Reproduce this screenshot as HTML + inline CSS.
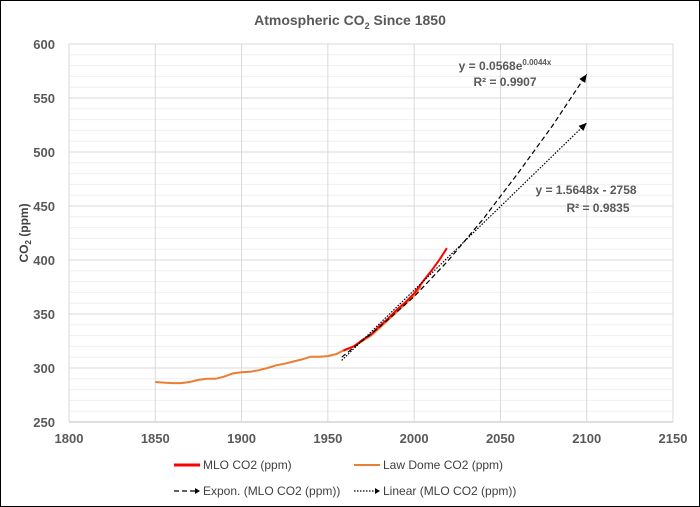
<!DOCTYPE html>
<html><head><meta charset="utf-8"><style>
body{margin:0;background:#fff}
svg{display:block;font-family:"Liberation Sans",sans-serif}
</style></head><body>
<svg id="chart" width="700" height="507" viewBox="0 0 700 507">
<rect x="0.5" y="0.5" width="699" height="506" fill="#fff" stroke="#000" stroke-width="1"/>
<text x="350" y="25" text-anchor="middle" font-size="14" font-weight="bold" fill="#595959">Atmospheric CO<tspan font-size="9" dy="4">2</tspan><tspan dy="-4"> Since 1850</tspan></text>
<g id="grid"></g>
<g id="yt"></g><g id="xt"></g>
<text transform="translate(28,233) rotate(-90)" text-anchor="middle" font-size="12" font-weight="bold" fill="#404040">CO<tspan font-size="8" dy="3">2</tspan><tspan dy="-3"> (ppm)</tspan></text>
<g id="series"></g>
<text x="505" y="70" text-anchor="middle" font-size="12" font-weight="bold" fill="#595959">y = 0.0568e<tspan font-size="8" dy="-5">0.0044x</tspan></text>
<text x="505" y="86" text-anchor="middle" font-size="12" font-weight="bold" fill="#595959">R² = 0.9907</text>
<text x="586" y="194" text-anchor="middle" font-size="12" font-weight="bold" fill="#595959">y = 1.5648x - 2758</text>
<text x="598" y="212" text-anchor="middle" font-size="12" font-weight="bold" fill="#595959">R² = 0.9835</text>
<g font-size="12" fill="#404040">
<g><line x1="174" y1="465" x2="200" y2="465" stroke="#f00" stroke-width="3"/><text x="203" y="469">MLO CO2 (ppm)</text></g>
<g><line x1="354" y1="465" x2="380" y2="465" stroke="#ed7d31" stroke-width="2"/><text x="383" y="469">Law Dome CO2 (ppm)</text></g>
<g><line x1="174" y1="491" x2="196" y2="491" stroke="#000" stroke-width="1.2" stroke-dasharray="5,3"/><path d="M195,488 L200,491 L195,494Z" fill="#000"/><text x="203" y="495">Expon. (MLO CO2 (ppm))</text></g>
<g><line x1="354" y1="491" x2="376" y2="491" stroke="#000" stroke-width="1.2" stroke-dasharray="1.5,1.5"/><path d="M375,488 L380,491 L375,494Z" fill="#000"/><text x="383" y="495">Linear (MLO CO2 (ppm))</text></g>
</g>
</svg>
<script>
const xTicks=[1800,1850,1900,1950,2000,2050,2100,2150];
const yTicks=[250,300,350,400,450,500,550,600];
const lawYears=[1850,1855,1860,1865,1870,1875,1880,1885,1890,1895,1900,1905,1910,1915,1920,1925,1930,1935,1940,1945,1950,1955,1960,1965,1970,1975,1980,1990,2000,2004];
const lawCO2=[287,286.5,286,286,287,289,290,290,292,295,296,296.5,298,300,302.5,304,306,308,310.5,310.5,311,313,317,320,325,330,337,352,367,376];
const mloYears=[1959,1962,1965,1970,1975,1980,1985,1990,1995,2000,2005,2010,2015,2019];
const mloCO2=[316,318,320,326,331,339,346,354,361,369,380,390,401,411];
const expYears=[1958,1980,2000,2020,2040,2060,2080,2100];
const expCO2=[310,338,366,400,438,480,524,572];
const linYears=[1958,2100];
const linCO2=[307,527];
const NS='http://www.w3.org/2000/svg';
const X=v=>69+(v-1800)*(604/350);
const Y=v=>422-(v-250)*(378/350);
function mk(t,a,p){const e=document.createElementNS(NS,t);for(const k in a)e.setAttribute(k,a[k]);p.appendChild(e);return e;}
const grid=document.getElementById('grid');
for(let v=260;v<600;v+=10){if(v%50){const l=mk('line',{x1:69,x2:673,y1:Y(v),y2:Y(v),stroke:'#f0f0f0','stroke-width':1},grid);

}}
yTicks.forEach(v=>{const l=mk('line',{x1:69,x2:673,y1:Y(v),y2:Y(v),stroke:v==250?'#bfbfbf':'#d9d9d9','stroke-width':1},grid);


const t=mk('text',{x:55,y:Y(v)+5,'text-anchor':'end','font-size':13,'font-weight':'bold',fill:'#595959'},document.getElementById('yt'));t.textContent=v;

});
xTicks.forEach(v=>{const l=mk('line',{x1:X(v),x2:X(v),y1:44,y2:422,stroke:'#d9d9d9','stroke-width':1},grid);


const t=mk('text',{x:X(v),y:443,'text-anchor':'middle','font-size':13,'font-weight':'bold',fill:'#595959'},document.getElementById('xt'));t.textContent=v;

});
const s=document.getElementById('series');
const pts=(xs,ys)=>xs.map((x,i)=>X(x).toFixed(1)+','+Y(ys[i]).toFixed(1)).join(' ');
const law=mk('polyline',{points:pts(lawYears,lawCO2),fill:'none',stroke:'#ed7d31','stroke-width':2},s);


const mlo=mk('polyline',{points:pts(mloYears,mloCO2),fill:'none',stroke:'#f00','stroke-width':2},s);


function arrow(xs,ys,dash,name){const p=mk('polyline',{points:pts(xs,ys),fill:'none',stroke:'#000','stroke-width':1.2,'stroke-dasharray':dash},s);


const n=xs.length,x1=X(xs[n-2]),y1=Y(ys[n-2]),x2=X(xs[n-1]),y2=Y(ys[n-1]);const a=Math.atan2(y2-y1,x2-x1);
const h=mk('path',{d:`M${x2},${y2} L${x2-8*Math.cos(a)+3.5*Math.sin(a)},${y2-8*Math.sin(a)-3.5*Math.cos(a)} L${x2-8*Math.cos(a)-3.5*Math.sin(a)},${y2-8*Math.sin(a)+3.5*Math.cos(a)}Z`,fill:'#000'},s);

}
arrow(expYears,expCO2,'5,3','exp-trendline');
arrow(linYears,linCO2,'1.5,1.5','linear-trendline');
</script>
</body></html>
